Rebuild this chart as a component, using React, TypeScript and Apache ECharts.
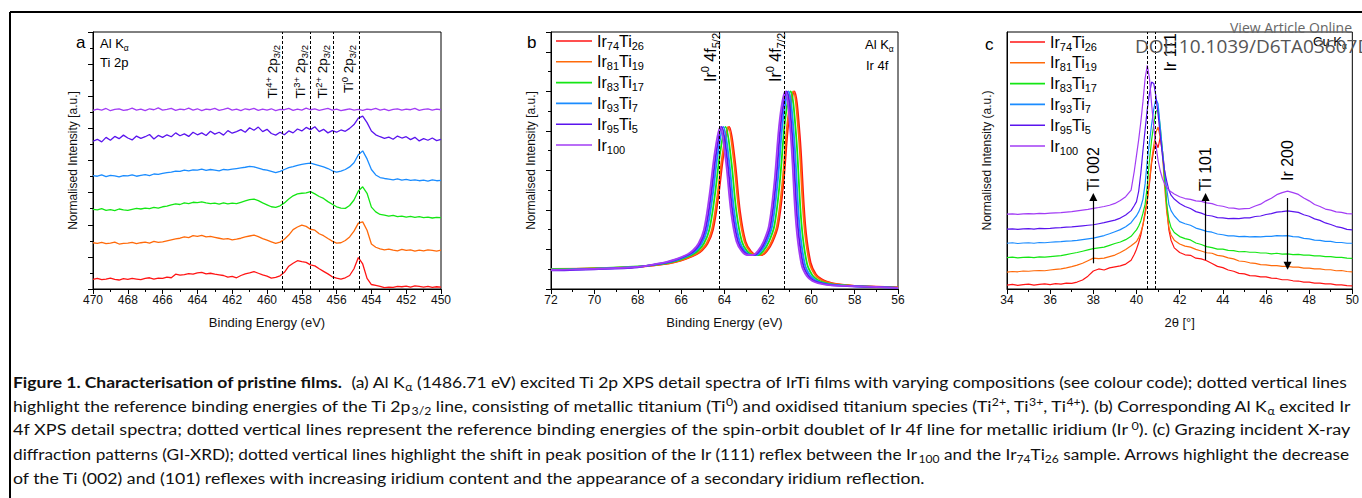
import React, { useEffect, useRef } from 'react';
import * as echarts from 'echarts';

// ---------- samples ----------
const SAMPLES = ['Ir74Ti26', 'Ir81Ti19', 'Ir83Ti17', 'Ir93Ti7', 'Ir95Ti5', 'Ir100'];
const SAMPLE_RICH: Record<string, string> = {
  Ir74Ti26: '{m|Ir}{s|74}{m|Ti}{s|26}',
  Ir81Ti19: '{m|Ir}{s|81}{m|Ti}{s|19}',
  Ir83Ti17: '{m|Ir}{s|83}{m|Ti}{s|17}',
  Ir93Ti7: '{m|Ir}{s|93}{m|Ti}{s|7}',
  Ir95Ti5: '{m|Ir}{s|95}{m|Ti}{s|5}',
  Ir100: '{m|Ir}{s|100}',
};
const COLORS = ['#ff1414', '#ff6a0a', '#14e614', '#1a8cff', '#5a14ee', '#a23cf5'];

// ---------- (a) Ti 2p XPS ----------
const TI2P_BE = [
  470, 469.75, 469.5, 469.25, 469, 468.75, 468.5, 468.25, 468, 467.75,
  467.5, 467.25, 467, 466.75, 466.5, 466.25, 466, 465.75, 465.5, 465.25,
  465, 464.75, 464.5, 464.25, 464, 463.75, 463.5, 463.25, 463, 462.75,
  462.5, 462.25, 462, 461.75, 461.5, 461.25, 461, 460.75, 460.5, 460.25,
  460, 459.75, 459.5, 459.25, 459, 458.75, 458.5, 458.25, 458, 457.75,
  457.5, 457.25, 457, 456.75, 456.5, 456.25, 456, 455.75, 455.5, 455.25,
  455, 454.75, 454.5, 454.25, 454, 453.75, 453.5, 453.25, 453, 452.75,
  452.5, 452.25, 452, 451.75, 451.5, 451.25, 451, 450.75, 450.5, 450.25,
  450,
];
const TI2P_IR74TI26 = [
  0.30, 0.33, 0.29, 0.31, 0.34, 0.30, 0.28, 0.32, 0.30, 0.33,
  0.31, 0.29, 0.33, 0.35, 0.31, 0.34, 0.33, 0.37, 0.35, 0.46,
  0.43, 0.45, 0.48, 0.46, 0.50, 0.52, 0.47, 0.49, 0.46, 0.44,
  0.42, 0.37, 0.39, 0.35, 0.42, 0.47, 0.50, 0.54, 0.49, 0.44,
  0.40, 0.34, 0.36, 0.41, 0.52, 0.71, 0.80, 0.88, 0.85, 0.83,
  0.75, 0.72, 0.63, 0.55, 0.47, 0.38, 0.34, 0.31, 0.35, 0.42,
  0.63, 0.98, 0.78, 0.33, 0.14, 0.11, 0.08, 0.04, 0.06, 0.05,
  0.08, 0.07, 0.09, 0.06, 0.10, 0.08, 0.06, 0.08, 0.05, 0.07,
  0.06,
];
const TI2P_IR81TI19 = [
  1.44, 1.42, 1.45, 1.41, 1.43, 1.46, 1.40, 1.42, 1.43, 1.45,
  1.41, 1.44, 1.46, 1.43, 1.48, 1.45, 1.47, 1.50, 1.53, 1.56,
  1.58, 1.62, 1.60, 1.66, 1.64, 1.67, 1.62, 1.64, 1.61, 1.58,
  1.55, 1.57, 1.53, 1.55, 1.58, 1.62, 1.65, 1.68, 1.63, 1.57,
  1.52, 1.47, 1.42, 1.46, 1.55, 1.68, 1.85, 1.93, 1.99, 1.95,
  1.86, 1.83, 1.72, 1.66, 1.57, 1.49, 1.43, 1.44, 1.51, 1.62,
  1.80, 2.05, 2.09, 1.83, 1.40, 1.30, 1.25, 1.22, 1.24, 1.21,
  1.19, 1.23, 1.20, 1.22, 1.18, 1.21, 1.19, 1.22, 1.20, 1.18,
  1.21,
];
const TI2P_IR83TI17 = [
  2.48, 2.46, 2.50, 2.45, 2.47, 2.44, 2.49, 2.46, 2.45, 2.48,
  2.51, 2.49, 2.52, 2.50, 2.54, 2.52, 2.56, 2.58, 2.62, 2.65,
  2.63, 2.68, 2.66, 2.70, 2.69, 2.71, 2.68, 2.66, 2.67, 2.64,
  2.68, 2.65, 2.67, 2.66, 2.70, 2.74, 2.78, 2.80, 2.75, 2.68,
  2.62, 2.56, 2.54, 2.59, 2.68, 2.80, 2.90, 2.96, 2.98, 2.99,
  3.03, 2.96, 2.88, 2.82, 2.72, 2.64, 2.56, 2.52, 2.51, 2.60,
  2.77, 3.05, 3.18, 2.98, 2.55, 2.40, 2.32, 2.30, 2.27, 2.29,
  2.25, 2.27, 2.24, 2.26, 2.23, 2.25, 2.22, 2.24, 2.21, 2.23,
  2.22,
];
const TI2P_IR93TI7 = [
  3.53, 3.51, 3.55, 3.50, 3.54, 3.52, 3.49, 3.53, 3.52, 3.55,
  3.51, 3.54, 3.56, 3.53, 3.58, 3.57, 3.60, 3.62, 3.64, 3.67,
  3.66, 3.70, 3.68, 3.71, 3.70, 3.73, 3.69, 3.72, 3.70, 3.68,
  3.72, 3.71, 3.73, 3.75, 3.77, 3.79, 3.82, 3.80, 3.76, 3.72,
  3.70, 3.66, 3.62, 3.66, 3.72, 3.78, 3.81, 3.85, 3.88, 3.90,
  3.92, 3.88, 3.84, 3.80, 3.75, 3.68, 3.64, 3.67, 3.72, 3.80,
  3.93, 4.18, 4.30, 4.05, 3.72, 3.55, 3.47, 3.44, 3.42, 3.40,
  3.43, 3.39, 3.41, 3.38, 3.40, 3.37, 3.39, 3.36, 3.40, 3.37,
  3.38,
];
const TI2P_IR95TI5 = [
  4.60, 4.66, 4.58, 4.72, 4.63, 4.75, 4.68, 4.79, 4.70, 4.64,
  4.76, 4.69, 4.74, 4.81, 4.67, 4.78, 4.72, 4.80, 4.74, 4.86,
  4.77, 4.83, 4.75, 4.88, 4.80, 4.86, 4.78, 4.91, 4.82, 4.88,
  4.79, 4.93, 4.85, 4.90, 4.96, 4.88, 5.02, 4.94, 5.04, 4.90,
  4.97, 4.84, 4.79, 4.88, 4.80, 4.92, 4.86, 4.98, 4.92, 5.03,
  4.96, 5.05, 4.90, 4.97, 4.86, 4.93, 4.88, 4.95, 4.91, 5.00,
  5.12, 5.32, 5.38, 5.18, 4.92, 4.80, 4.74, 4.69, 4.73, 4.66,
  4.76, 4.70, 4.74, 4.65, 4.72, 4.61, 4.68, 4.63, 4.70, 4.62,
  4.66,
];
const TI2P_IR100 = [
  5.56, 5.60, 5.57, 5.62, 5.55, 5.59, 5.61, 5.56, 5.58, 5.63,
  5.57, 5.60, 5.55, 5.61, 5.58, 5.64, 5.57, 5.59, 5.62, 5.56,
  5.60, 5.58, 5.63, 5.57, 5.61, 5.55, 5.60, 5.58, 5.62, 5.56,
  5.59, 5.63, 5.57, 5.60, 5.55, 5.61, 5.58, 5.62, 5.56, 5.60,
  5.57, 5.61, 5.55, 5.59, 5.58, 5.62, 5.56, 5.60, 5.57, 5.63,
  5.58, 5.61, 5.56, 5.59, 5.62, 5.57, 5.60, 5.55, 5.58, 5.61,
  5.57, 5.59, 5.56, 5.60, 5.58, 5.62, 5.57, 5.60, 5.55, 5.59,
  5.61, 5.57, 5.60, 5.58, 5.62, 5.56, 5.59, 5.61, 5.57, 5.60,
  5.58,
];
const TI_REF_BE = [459.1, 457.5, 456.2, 454.7];
const TI_REF_LABELS = [
  '{m|Ti}{p|4+}{m| 2p}{s|3/2}',
  '{m|Ti}{p|3+}{m| 2p}{s|3/2}',
  '{m|Ti}{p|2+}{m| 2p}{s|3/2}',
  '{m|Ti}{p|0}{m| 2p}{s|3/2}',
];

// ---------- (b) Ir 4f XPS, [binding energy, intensity] ----------
const IR4F_IR74TI26 = [
  [72, 0.5], [70, 0.52], [68, 0.56], [66.78, 0.63], [66.28, 0.68], [65.78, 0.76], [65.28, 0.88],
  [65.03, 0.98], [64.78, 1.15], [64.53, 1.5], [64.28, 2.35], [64.03, 3.45], [63.78, 4.1], [63.53, 3.3],
  [63.28, 1.95], [63.03, 1.2], [62.78, 0.95], [62.53, 0.86], [62.28, 0.86], [62.03, 0.97], [61.78, 1.2],
  [61.53, 1.6], [61.28, 2.7], [61.03, 4.3], [60.78, 5.0], [60.53, 3.9], [60.28, 1.65], [60.03, 0.67],
  [59.78, 0.37], [59.53, 0.25], [59.28, 0.19], [58.78, 0.12], [58, 0.08], [57, 0.06], [56, 0.04],
];
const IR4F_IR81TI19 = [
  [72, 0.51], [70, 0.52], [68, 0.56], [66.83, 0.63], [66.33, 0.68], [65.83, 0.76], [65.33, 0.88],
  [65.08, 0.98], [64.83, 1.15], [64.58, 1.5], [64.33, 2.35], [64.08, 3.45], [63.83, 4.1], [63.58, 3.3],
  [63.33, 1.95], [63.08, 1.2], [62.83, 0.95], [62.58, 0.86], [62.33, 0.86], [62.08, 0.97], [61.83, 1.2],
  [61.58, 1.6], [61.33, 2.7], [61.08, 4.3], [60.83, 5.0], [60.58, 3.9], [60.33, 1.65], [60.08, 0.66],
  [59.83, 0.36], [59.58, 0.24], [59.33, 0.18], [58.83, 0.12], [58, 0.08], [57, 0.05], [56, 0.04],
];
const IR4F_IR83TI17 = [
  [72, 0.5], [70, 0.52], [68, 0.57], [66.95, 0.63], [66.45, 0.68], [65.95, 0.76], [65.45, 0.88],
  [65.2, 0.98], [64.95, 1.15], [64.7, 1.5], [64.45, 2.35], [64.2, 3.45], [63.95, 4.1], [63.7, 3.3],
  [63.45, 1.95], [63.2, 1.2], [62.95, 0.95], [62.7, 0.86], [62.45, 0.86], [62.2, 0.97], [61.95, 1.2],
  [61.7, 1.6], [61.45, 2.7], [61.2, 4.3], [60.95, 5.0], [60.7, 3.9], [60.45, 1.65], [60.2, 0.65],
  [59.95, 0.35], [59.7, 0.23], [59.45, 0.17], [58.95, 0.11], [58, 0.08], [57, 0.05], [56, 0.03],
];
const IR4F_IR93TI7 = [
  [72, 0.49], [70, 0.51], [68, 0.56], [67.05, 0.63], [66.55, 0.68], [66.05, 0.76], [65.55, 0.88],
  [65.3, 0.98], [65.05, 1.15], [64.8, 1.5], [64.55, 2.35], [64.3, 3.45], [64.05, 4.1], [63.8, 3.3],
  [63.55, 1.95], [63.3, 1.2], [63.05, 0.95], [62.8, 0.86], [62.55, 0.86], [62.3, 0.97], [62.05, 1.2],
  [61.8, 1.6], [61.55, 2.7], [61.3, 4.3], [61.05, 5.0], [60.8, 3.9], [60.55, 1.65], [60.3, 0.64],
  [60.05, 0.34], [59.8, 0.22], [59.55, 0.16], [59.05, 0.11], [58, 0.07], [57, 0.05], [56, 0.03],
];
const IR4F_IR95TI5 = [
  [72, 0.47], [70, 0.5], [68, 0.55], [67.13, 0.63], [66.63, 0.68], [66.13, 0.76], [65.63, 0.88],
  [65.38, 0.98], [65.13, 1.15], [64.88, 1.5], [64.63, 2.35], [64.38, 3.45], [64.13, 4.1], [63.88, 3.3],
  [63.63, 1.95], [63.38, 1.2], [63.13, 0.95], [62.88, 0.86], [62.63, 0.86], [62.38, 0.97], [62.13, 1.2],
  [61.88, 1.6], [61.63, 2.7], [61.38, 4.3], [61.13, 5.0], [60.88, 3.9], [60.63, 1.65], [60.38, 0.63],
  [60.13, 0.33], [59.88, 0.21], [59.63, 0.16], [59.13, 0.1], [58, 0.07], [57, 0.05], [56, 0.03],
];
const IR4F_IR100 = [
  [72, 0.48], [70, 0.51], [68, 0.56], [67.2, 0.63], [66.7, 0.68], [66.2, 0.76], [65.7, 0.88],
  [65.45, 0.98], [65.2, 1.15], [64.95, 1.5], [64.7, 2.35], [64.45, 3.45], [64.2, 4.1], [63.95, 3.3],
  [63.7, 1.95], [63.45, 1.2], [63.2, 0.95], [62.95, 0.86], [62.7, 0.86], [62.45, 0.97], [62.2, 1.2],
  [61.95, 1.6], [61.7, 2.7], [61.45, 4.3], [61.2, 5.0], [60.95, 3.9], [60.7, 1.65], [60.45, 0.62],
  [60.2, 0.32], [59.95, 0.2], [59.7, 0.15], [59.2, 0.1], [58, 0.07], [57, 0.05], [56, 0.03],
];
const IR_REF_BE = [64.25, 61.25];
const IR_REF_LABELS = ['{m|Ir}{p|0}{m| 4f}{s|5/2}', '{m|Ir}{p|0}{m| 4f}{s|7/2}'];

// ---------- (c) GI-XRD ----------
const XRD_2THETA = [
  34, 34.25, 34.5, 34.75, 35, 35.25, 35.5, 35.75, 36, 36.25,
  36.5, 36.75, 37, 37.25, 37.5, 37.75, 38, 38.25, 38.5, 38.75,
  39, 39.25, 39.5, 39.75, 39.9, 40, 40.1, 40.2, 40.3, 40.4,
  40.5, 40.6, 40.7, 40.8, 40.9, 41, 41.1, 41.2, 41.3, 41.4,
  41.5, 41.6, 41.75, 42, 42.25, 42.5, 42.75, 43, 43.25, 43.5,
  43.75, 44, 44.25, 44.5, 44.75, 45, 45.25, 45.5, 45.75, 46,
  46.25, 46.5, 46.75, 47, 47.25, 47.5, 47.75, 48, 48.25, 48.5,
  48.75, 49, 49.25, 49.5, 49.75, 50,
];
const XRD_IR74TI26 = [
  0.15, 0.18, 0.14, 0.17, 0.19, 0.15, 0.18, 0.20, 0.17, 0.21,
  0.19, 0.23, 0.22, 0.27, 0.35, 0.50, 0.70, 0.78, 0.74, 0.82,
  0.86, 0.90, 0.97, 1.12, 1.35, 1.55, 1.8, 2.1, 2.5, 3.0,
  3.5, 4.1, 4.9, 5.4, 5.7, 5.5, 5.9, 5.4, 4.6, 3.2,
  2.3, 1.9, 1.6, 1.42, 1.33, 1.31, 1.20, 1.17, 1.10, 0.99,
  0.88, 0.83, 0.74, 0.69, 0.61, 0.59, 0.52, 0.51, 0.47, 0.47,
  0.42, 0.41, 0.36, 0.36, 0.32, 0.31, 0.27, 0.27, 0.23, 0.23,
  0.20, 0.20, 0.16, 0.16, 0.13, 0.12,
];
const XRD_IR81TI19 = [
  0.66, 0.68, 0.67, 0.70, 0.69, 0.71, 0.72, 0.71, 0.74, 0.76,
  0.78, 0.82, 0.87, 0.93, 1.00, 1.10, 1.20, 1.18, 1.20, 1.26,
  1.32, 1.42, 1.54, 1.68, 1.78, 1.85, 2.0, 2.2, 2.5, 2.9,
  3.4, 4.2, 5.0, 5.6, 6.1, 6.3, 5.9, 5.3, 4.0, 3.0,
  2.4, 2.1, 1.9, 1.75, 1.67, 1.63, 1.54, 1.48, 1.41, 1.39,
  1.31, 1.28, 1.21, 1.17, 1.09, 1.07, 1.02, 1.00, 0.95, 0.94,
  0.91, 0.91, 0.88, 0.88, 0.85, 0.85, 0.81, 0.81, 0.78, 0.78,
  0.75, 0.75, 0.71, 0.72, 0.68, 0.67,
];
const XRD_IR83TI17 = [
  1.22, 1.24, 1.21, 1.23, 1.24, 1.22, 1.25, 1.24, 1.26, 1.28,
  1.30, 1.34, 1.38, 1.42, 1.47, 1.52, 1.57, 1.60, 1.63, 1.70,
  1.77, 1.83, 1.92, 2.05, 2.2, 2.3, 2.45, 2.65, 2.95, 3.3,
  4.0, 5.0, 5.8, 6.4, 6.9, 7.0, 6.3, 5.4, 4.3, 3.3,
  2.7, 2.4, 2.2, 2.04, 1.96, 1.91, 1.79, 1.73, 1.65, 1.61,
  1.55, 1.55, 1.50, 1.49, 1.45, 1.46, 1.43, 1.43, 1.40, 1.40,
  1.37, 1.39, 1.36, 1.37, 1.34, 1.35, 1.32, 1.32, 1.29, 1.29,
  1.26, 1.26, 1.23, 1.23, 1.20, 1.19,
];
const XRD_IR93TI7 = [
  1.78, 1.80, 1.77, 1.79, 1.80, 1.78, 1.81, 1.80, 1.82, 1.83,
  1.84, 1.86, 1.87, 1.89, 1.92, 1.95, 1.98, 2.03, 2.08, 2.15,
  2.23, 2.31, 2.42, 2.58, 2.75, 2.85, 3.0, 3.2, 3.5, 4.1,
  5.0, 5.7, 6.4, 7.0, 7.4, 7.2, 6.3, 5.4, 4.6, 3.9,
  3.3, 3.05, 2.85, 2.62, 2.54, 2.48, 2.37, 2.31, 2.24, 2.21,
  2.14, 2.11, 2.07, 2.07, 2.04, 2.05, 2.03, 2.04, 2.03, 2.05,
  2.05, 2.08, 2.07, 2.08, 2.04, 2.03, 1.97, 1.95, 1.90, 1.89,
  1.85, 1.85, 1.81, 1.81, 1.78, 1.78,
];
const XRD_IR95TI5 = [
  2.33, 2.34, 2.32, 2.34, 2.35, 2.33, 2.36, 2.35, 2.36, 2.38,
  2.39, 2.41, 2.42, 2.44, 2.46, 2.48, 2.50, 2.54, 2.58, 2.63,
  2.68, 2.76, 2.88, 3.05, 3.25, 3.4, 3.8, 4.5, 5.4, 6.2,
  7.0, 7.6, 8.05, 8.0, 7.5, 6.8, 6.0, 5.2, 4.6, 4.2,
  3.85, 3.65, 3.5, 3.33, 3.21, 3.13, 3.01, 2.95, 2.87, 2.84,
  2.78, 2.77, 2.74, 2.75, 2.74, 2.77, 2.77, 2.82, 2.84, 2.90,
  2.93, 2.99, 3.01, 3.04, 3.01, 2.98, 2.89, 2.83, 2.73, 2.67,
  2.57, 2.51, 2.43, 2.39, 2.32, 2.30,
];
const XRD_IR100 = [
  2.91, 2.92, 2.90, 2.92, 2.93, 2.92, 2.94, 2.93, 2.95, 2.96,
  2.97, 2.99, 3.01, 3.04, 3.07, 3.10, 3.14, 3.17, 3.21, 3.26,
  3.33, 3.44, 3.59, 3.85, 4.6, 5.2, 5.8, 6.5, 7.3, 8.2,
  8.7, 8.2, 7.2, 6.3, 5.6, 5.0, 4.6, 4.3, 4.1, 3.95,
  3.85, 3.78, 3.7, 3.59, 3.52, 3.49, 3.43, 3.41, 3.35, 3.32,
  3.25, 3.22, 3.16, 3.15, 3.11, 3.13, 3.14, 3.23, 3.30, 3.43,
  3.53, 3.67, 3.75, 3.81, 3.75, 3.68, 3.54, 3.43, 3.29, 3.21,
  3.11, 3.07, 3.00, 2.98, 2.93, 2.92,
];
const IR111_POS = [40.5, 40.88];
// reflex markers: position, arrow start, arrow end, label
const REFLEX_ARROWS: [number, number, number, string][] = [
  [38.0, 1.0, 3.58, 'Ti 002'],
  [43.2, 1.13, 3.58, 'Ti 101'],
  [47.0, 3.54, 0.9, 'Ir 200'],
];

// ---------- caption ----------
const CAPTION_LINES: [string, string][][] = [
  [['b', 'Figure 1. Characterisation of pristine films.'], ['n', '  (a) Al K'], ['s', 'α'],
    ['n', ' (1486.71 eV) excited Ti 2p XPS detail spectra of IrTi films with varying compositions (see colour code); dotted vertical lines']],
  [['n', 'highlight the reference binding energies of the Ti 2p'], ['s', '3/2'],
    ['n', ' line, consisting of metallic titanium (Ti'], ['p', '0'], ['n', ') and oxidised titanium species (Ti'], ['p', '2+'],
    ['n', ', Ti'], ['p', '3+'], ['n', ', Ti'], ['p', '4+'], ['n', '). (b) Corresponding Al K'], ['s', 'α'], ['n', ' excited Ir']],
  [['n', '4f XPS detail spectra; dotted vertical lines represent the reference binding energies of the spin-orbit doublet of Ir 4f line for metallic iridium (Ir'],
    ['p', '0'], ['n', '). (c) Grazing incident X-ray']],
  [['n', 'diffraction patterns (GI-XRD); dotted vertical lines highlight the shift in peak position of the Ir (111) reflex between the Ir'],
    ['s', '100'], ['n', ' and the Ir'], ['s', '74'], ['n', 'Ti'], ['s', '26'], ['n', ' sample. Arrows highlight the decrease']],
  [['n', 'of the Ti (002) and (101) reflexes with increasing iridium content and the appearance of a secondary iridium reflection.']],
];

const FONT = 'Liberation Sans, Arial, Helvetica, sans-serif';
const CAPTION_FONT = 'Lato, Carlito, Calibri, sans-serif';
const CAP_SIZE = 15;
const CAP_SMALL = 10.5;

function richSet(main: number, small: number, family: string, fill = '#000') {
  return {
    m: { fontSize: main, fontFamily: family, lineHeight: Math.round(main * 1.35), verticalAlign: 'middle', fill },
    s: { fontSize: small, fontFamily: family, lineHeight: small, verticalAlign: 'bottom', fill },
    p: { fontSize: small, fontFamily: family, lineHeight: small, verticalAlign: 'top', fill },
  };
}

function axisCommon() {
  return {
    type: 'value' as const,
    axisLine: { show: true, onZero: false, lineStyle: { color: '#000', width: 1 } },
    axisTick: { show: true, inside: false, length: 5, lineStyle: { color: '#000', width: 1 } },
    minorTick: { show: true, splitNumber: 2, length: 3, lineStyle: { color: '#000', width: 1 } },
    splitLine: { show: false },
    minorSplitLine: { show: false },
  };
}

function xAxisOf(grid: number, min: number, max: number, inverse: boolean, name: string) {
  return {
    ...axisCommon(),
    gridIndex: grid,
    min,
    max,
    interval: 2,
    inverse,
    axisLabel: { color: '#111', fontSize: 12, margin: 5, fontFamily: FONT },
    name,
    nameLocation: 'middle',
    nameGap: 27,
    nameTextStyle: { color: '#111', fontSize: 13, fontFamily: FONT },
  };
}

function yAxisOf(grid: number, max: number, ticks: boolean, name: string) {
  const c = axisCommon();
  return {
    ...c,
    gridIndex: grid,
    min: 0,
    max,
    interval: 1,
    axisTick: { ...c.axisTick, show: ticks },
    minorTick: { ...c.minorTick, show: ticks },
    axisLabel: { show: false },
    name,
    nameLocation: 'middle',
    nameGap: 14,
    nameTextStyle: { color: '#111', fontSize: 12, fontFamily: FONT },
  };
}

const DASHED = { color: '#000', width: 1, type: [3, 2] as number[] };

function buildOption() {
  const series: any[] = [];
  const tiSets = [TI2P_IR74TI26, TI2P_IR81TI19, TI2P_IR83TI17, TI2P_IR93TI7, TI2P_IR95TI5, TI2P_IR100];
  const irSets = [IR4F_IR74TI26, IR4F_IR81TI19, IR4F_IR83TI17, IR4F_IR93TI7, IR4F_IR95TI5, IR4F_IR100];
  const xrdSets = [XRD_IR74TI26, XRD_IR81TI19, XRD_IR83TI17, XRD_IR93TI7, XRD_IR95TI5, XRD_IR100];

  SAMPLES.forEach((name, k) => {
    const color = COLORS[k];
    const s: any = {
      type: 'line', name, xAxisIndex: 0, yAxisIndex: 0, symbol: 'none', showSymbol: false, silent: true,
      data: TI2P_BE.map((e, i) => [e, tiSets[k][i]]),
      lineStyle: { color, width: 1.3 }, itemStyle: { color },
    };
    if (k === 0) {
      s.markLine = { silent: true, symbol: ['none', 'none'], label: { show: false }, lineStyle: DASHED,
        data: TI_REF_BE.map((v) => ({ xAxis: v })) };
    }
    series.push(s);
  });

  SAMPLES.forEach((name, k) => {
    const color = COLORS[k];
    const s: any = {
      type: 'line', name, xAxisIndex: 1, yAxisIndex: 1, symbol: 'none', showSymbol: false, silent: true,
      smooth: 0.35, data: irSets[k],
      lineStyle: { color, width: 1.8 }, itemStyle: { color },
    };
    if (k === 0) {
      s.markLine = { silent: true, symbol: ['none', 'none'], label: { show: false }, lineStyle: DASHED,
        data: IR_REF_BE.map((v) => ({ xAxis: v })) };
    }
    series.push(s);
  });

  SAMPLES.forEach((name, k) => {
    const color = COLORS[k];
    const s: any = {
      type: 'line', name, xAxisIndex: 2, yAxisIndex: 2, symbol: 'none', showSymbol: false, silent: true,
      data: XRD_2THETA.map((t, i) => [t, xrdSets[k][i]]),
      lineStyle: { color, width: 1.2 }, itemStyle: { color },
    };
    if (k === 0) {
      s.markLine = { silent: true, symbol: ['none', 'none'], label: { show: false }, lineStyle: DASHED,
        data: IR111_POS.map((v) => ({ xAxis: v })) };
    }
    if (k === 1) {
      s.markLine = { silent: true, symbol: ['none', 'triangle'], symbolSize: 8, label: { show: false },
        lineStyle: { color: '#000', width: 1.2, type: 'solid' }, itemStyle: { color: '#000' },
        data: REFLEX_ARROWS.map(([x, y0, y1]) => [{ coord: [x, y0] }, { coord: [x, y1] }]) };
    }
    series.push(s);
  });

  const legendText = {
    fontFamily: FONT, fontSize: 16, color: '#000',
    rich: {
      m: { fontFamily: FONT, fontSize: 16, lineHeight: 20, verticalAlign: 'middle', color: '#000' },
      s: { fontFamily: FONT, fontSize: 11, lineHeight: 11, verticalAlign: 'bottom', color: '#000' },
    },
  };
  const legendBase = {
    orient: 'vertical', icon: 'rect', itemWidth: 36, itemHeight: 1.6, itemGap: 2.8, padding: 0, selectedMode: false,
    data: SAMPLES, formatter: (n: string) => SAMPLE_RICH[n], textStyle: legendText,
  };

  return {
    animation: false,
    backgroundColor: '#fff',
    textStyle: { fontFamily: FONT },
    grid: [
      { left: 93, top: 32, width: 348, height: 257, show: true, borderColor: '#000', borderWidth: 1 },
      { left: 551, top: 32, width: 347, height: 257, show: true, borderColor: '#000', borderWidth: 1 },
      { left: 1007, top: 32, width: 348, height: 257, show: true, borderColor: '#000', borderWidth: 1 },
    ],
    xAxis: [
      xAxisOf(0, 450, 470, true, 'Binding Energy (eV)'),
      xAxisOf(1, 56, 72, true, 'Binding Energy (eV)'),
      xAxisOf(2, 34, 50, false, '2θ [°]'),
    ],
    yAxis: [
      yAxisOf(0, 8, true, 'Normalised Intensity [a.u.]'),
      yAxisOf(1, 6.5, true, 'Normalised Intensity [a.u.]'),
      yAxisOf(2, 10, false, 'Normalised Intensity (a.u.)'),
    ],
    legend: [
      { ...legendBase, left: 556, top: 33 },
      { ...legendBase, left: 1010, top: 34, itemWidth: 35 },
    ],
    series,
  };
}

function buildGraphics(px: (g: number, x: number, y: number) => number[]) {
  const els: any[] = [];
  const R = Math.PI / 2;

  // figure frame
  els.push({ type: 'line', shape: { x1: 10, y1: 12, x2: 1362, y2: 12 }, style: { stroke: '#000', lineWidth: 2 } });
  els.push({ type: 'line', shape: { x1: 10, y1: 12, x2: 10, y2: 498 }, style: { stroke: '#000', lineWidth: 2 } });

  // panel letters and excitation notes
  const plain = (text: string, x: number, y: number, size: number) => ({
    type: 'text', x, y, z: 50,
    style: { text, fontSize: size, fontFamily: FONT, fill: '#000', align: 'left', verticalAlign: 'middle' },
  });
  const rich = (text: string, x: number, y: number, main: number, small: number) => ({
    type: 'text', x, y, z: 50,
    style: { text, fontSize: main, fontFamily: FONT, fill: '#000', align: 'left', verticalAlign: 'middle', rich: richSet(main, small, FONT) },
  });
  els.push(plain('a', 76, 42, 17));
  els.push(rich('{m|Al K}{s|α}', 100, 43, 13, 8.5));
  els.push(plain('Ti 2p', 100, 62, 13));
  els.push(plain('b', 527, 42, 17));
  els.push(rich('{m|Al K}{s|α}', 865, 44, 13, 8.5));
  els.push(plain('Ir 4f', 866, 65, 13));
  els.push(plain('c', 985, 44, 17));
  els.push(rich('{m|Cu K}{s|α}', 1313, 41, 13, 8.5));

  // reference-line labels, (a)
  TI_REF_BE.forEach((v, i) => {
    const [x] = px(0, v, 0);
    els.push({
      type: 'text', x: x - 1.5, y: 45, rotation: R, z: 50,
      style: { text: TI_REF_LABELS[i], fontSize: 13.5, fontFamily: FONT, fill: '#000', align: 'right', verticalAlign: 'bottom', rich: richSet(13.5, 9.5, FONT) },
    });
  });
  // reference-line labels, (b)
  IR_REF_BE.forEach((v, i) => {
    const [x] = px(1, v, 0);
    els.push({
      type: 'text', x: x + 2, y: 33, rotation: R, z: 50,
      style: { text: IR_REF_LABELS[i], fontSize: 16, fontFamily: FONT, fill: '#000', align: 'right', verticalAlign: 'bottom', rich: richSet(16, 11, FONT) },
    });
  });
  // (c) Ir 111 and reflex labels
  {
    const [x] = px(2, IR111_POS[1], 0);
    els.push({
      type: 'text', x: x + 7, y: 33, rotation: R, z: 50,
      style: { text: 'Ir 111', fontSize: 16, fontFamily: FONT, fill: '#000', align: 'right', verticalAlign: 'top' },
    });
  }
  REFLEX_ARROWS.forEach(([t, y0, y1, label]) => {
    const top = Math.max(y0, y1);
    const [x, y] = px(2, t, top);
    const gap = y1 > y0 ? 6 : 17;
    els.push({
      type: 'text', x, y: y - gap, rotation: R, z: 50,
      style: { text: label, fontSize: 16, fontFamily: FONT, fill: '#000', align: 'left', verticalAlign: 'middle' },
    });
  });

  // caption
  const ctx = document.createElement('canvas').getContext('2d') as CanvasRenderingContext2D;
  const fontOf = (st: string) =>
    `${st === 'b' ? 'bold ' : ''}${st === 's' || st === 'p' ? CAP_SMALL : CAP_SIZE}px ${CAPTION_FONT}`;
  const capRich = {
    n: { fontFamily: CAPTION_FONT, fontSize: CAP_SIZE, lineHeight: 20, verticalAlign: 'middle', fill: '#111' },
    b: { fontFamily: CAPTION_FONT, fontSize: CAP_SIZE, fontWeight: 'bold', lineHeight: 20, verticalAlign: 'middle', fill: '#111' },
    s: { fontFamily: CAPTION_FONT, fontSize: CAP_SMALL, lineHeight: 10.5, verticalAlign: 'bottom', fill: '#111' },
    p: { fontFamily: CAPTION_FONT, fontSize: CAP_SMALL, lineHeight: 10.5, verticalAlign: 'top', fill: '#111' },
  };
  const targetWidths = [1337, 1337, 1337, 1337, 914];
  const lineYs = [382, 406, 430, 454, 478];
  CAPTION_LINES.forEach((line, i) => {
    let w = 0;
    line.forEach(([st, t]) => {
      ctx.font = fontOf(st);
      w += ctx.measureText(t).width;
    });
    const sx = w > 0 ? targetWidths[i] / w : 1;
    els.push({
      type: 'text', x: 13, y: lineYs[i], scaleX: sx, z: 50,
      style: {
        text: line.map(([st, t]) => `{${st}|${t}}`).join(''),
        fontSize: CAP_SIZE, fontFamily: CAPTION_FONT, fill: '#111', align: 'left', verticalAlign: 'middle', rich: capRich,
      },
    });
  });

  // publisher overlay
  els.push({ type: 'text', x: 1230, y: 27, z: 100,
    style: { text: 'View Article Online', fontSize: 14, fontFamily: 'Open Sans, sans-serif', fill: '#666', align: 'left', verticalAlign: 'middle' } });
  els.push({ type: 'text', x: 1135, y: 46, z: 100,
    style: { text: 'DOI: 10.1039/D6TA03607D', fontSize: 19, fontFamily: 'Open Sans, sans-serif', fill: '#555', align: 'left', verticalAlign: 'middle' } });

  return els;
}

export default function App() {
  const ref = useRef<HTMLDivElement>(null);
  useEffect(() => {
    const el = ref.current;
    if (!el) return;
    const chart = echarts.init(el, null, { renderer: 'svg' });
    chart.setOption(buildOption() as any);
    const px = (g: number, x: number, y: number) =>
      chart.convertToPixel({ gridIndex: g } as any, [x, y]) as unknown as number[];
    chart.setOption({ graphic: { elements: buildGraphics(px) } } as any);
    return () => chart.dispose();
  }, []);
  return (
    <div
      ref={ref}
      style={{ position: 'absolute', left: 0, top: 0, width: 1362, height: 498, background: '#fff' }}
    />
  );
}
